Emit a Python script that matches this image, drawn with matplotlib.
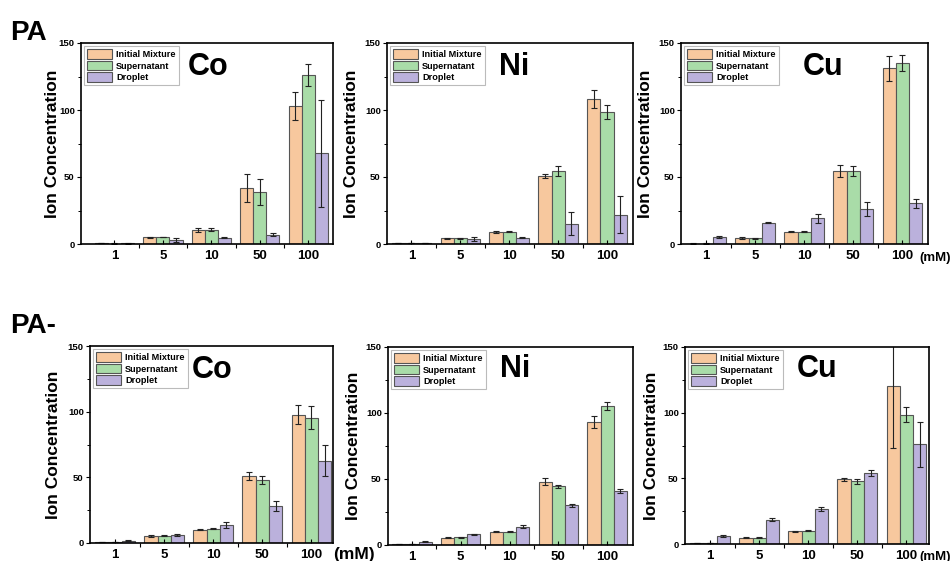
import numpy as np
import matplotlib
matplotlib.use("Agg")
import matplotlib.pyplot as plt
from matplotlib.ticker import FixedLocator, MultipleLocator

plt.rcParams['font.family'] = ['Liberation Sans', 'DejaVu Sans']
plt.rcParams['font.weight'] = 'bold'

concs = ['1', '5', '10', '50', '100']
series = ['Initial Mixture', 'Supernatant', 'Droplet']
colors = ['#F7C89E', '#A9DCA8', '#BBB1DC']

# PA
pa_co_im = [0.8, 5.0, 10.5, 41.9, 103.3]; pa_co_im_err = [0.3, 0.3, 1.5, 10.5, 10.5]
pa_co_s = [0.3, 5.2, 10.8, 38.7, 126.0];  pa_co_s_err = [0.1, 0.3, 1.0, 9.5, 8.0]
pa_co_d = [0.5, 3.0, 4.8, 7.0, 67.6];     pa_co_d_err = [0.2, 1.5, 0.5, 1.0, 40.0]

pa_ni_im = [0.5, 4.3, 9.0, 50.7, 108.3];  pa_ni_im_err = [0.1, 0.3, 0.5, 1.7, 6.5]
pa_ni_s = [0.5, 4.3, 9.2, 54.4, 98.3];    pa_ni_s_err = [0.1, 0.3, 0.5, 4.0, 5.3]
pa_ni_d = [0.5, 4.0, 4.7, 15.2, 22.0];    pa_ni_d_err = [0.1, 1.5, 0.5, 8.5, 13.5]

pa_cu_im = [0.3, 4.5, 9.3, 54.2, 131.3];  pa_cu_im_err = [0.1, 0.7, 0.5, 4.5, 9.3]
pa_cu_s = [0.3, 4.3, 9.3, 54.4, 135.3];   pa_cu_s_err = [0.1, 0.3, 0.5, 3.5, 6.0]
pa_cu_d = [5.0, 16.0, 19.2, 26.0, 30.4];  pa_cu_d_err = [0.8, 0.6, 3.3, 5.0, 3.5]

# PA-
pam_co_im = [0.8, 5.3, 10.0, 50.9, 97.8]; pam_co_im_err = [0.3, 0.5, 0.4, 2.8, 7.3]
pam_co_s = [0.8, 5.5, 10.8, 48.1, 95.5];  pam_co_s_err = [0.2, 0.4, 0.4, 2.8, 8.6]
pam_co_d = [1.8, 6.0, 13.7, 28.1, 62.8];  pam_co_d_err = [0.5, 1.0, 2.0, 3.8, 11.7]

pam_ni_im = [0.8, 5.5, 10.0, 48.1, 93.1]; pam_ni_im_err = [0.2, 0.4, 0.4, 2.8, 4.5]
pam_ni_s = [0.8, 5.7, 10.0, 44.5, 105.2]; pam_ni_s_err = [0.3, 0.3, 0.4, 1.2, 3.3]
pam_ni_d = [2.5, 8.0, 14.0, 30.1, 40.7];  pam_ni_d_err = [0.4, 0.6, 1.2, 1.2, 1.5]

pam_cu_im = [0.5, 4.8, 9.6, 49.4, 120.3]; pam_cu_im_err = [0.1, 0.4, 0.4, 1.2, 47.5]
pam_cu_s = [0.5, 4.8, 10.2, 47.6, 98.6];  pam_cu_s_err = [0.1, 0.3, 0.3, 1.8, 6.0]
pam_cu_d = [6.4, 18.5, 27.0, 54.0, 76.0]; pam_cu_d_err = [0.8, 1.0, 1.5, 2.3, 17.0]

panels = [
    ('Co', [pa_co_im, pa_co_s, pa_co_d], [pa_co_im_err, pa_co_s_err, pa_co_d_err]),
    ('Ni', [pa_ni_im, pa_ni_s, pa_ni_d], [pa_ni_im_err, pa_ni_s_err, pa_ni_d_err]),
    ('Cu', [pa_cu_im, pa_cu_s, pa_cu_d], [pa_cu_im_err, pa_cu_s_err, pa_cu_d_err]),
    ('Co', [pam_co_im, pam_co_s, pam_co_d], [pam_co_im_err, pam_co_s_err, pam_co_d_err]),
    ('Ni', [pam_ni_im, pam_ni_s, pam_ni_d], [pam_ni_im_err, pam_ni_s_err, pam_ni_d_err]),
    ('Cu', [pam_cu_im, pam_cu_s, pam_cu_d], [pam_cu_im_err, pam_cu_s_err, pam_cu_d_err]),
]

W, H = 952, 561
fig = plt.figure(figsize=(W / 100, H / 100), dpi=100)

# axes boxes in pixels: left, top, right, bottom
boxes = [
    (81, 43, 333, 244),
    (387, 43, 633, 244),
    (681, 43, 928, 244),
    (90, 346, 333, 543),
    (388, 347, 633, 545),
    (685, 347, 929, 544),
]
xlims = [(-0.69, 4.51), (-0.5, 4.53), (-0.51, 4.52),
         (-0.51, 4.44), (-0.49, 4.53), (-0.51, 4.46)]
ylabel_x = [53, 351, 646, 54, 354, 651]
title_pos = [(188, 75), (499, 75), (803, 75), (192, 378), (500, 377), (797, 377)]

x = np.arange(len(concs))
bw = 0.27
offsets = [-bw, 0, bw]

for i, (el, vals, errs) in enumerate(panels):
    l, t, r, b = boxes[i]
    ax = fig.add_axes([l / W, 1 - b / H, (r - l) / W, (b - t) / H])
    for k in range(3):
        ax.bar(x + offsets[k], vals[k], width=bw, color=colors[k],
               edgecolor='#555555', linewidth=0.8, label=series[k],
               yerr=errs[k], capsize=2.2,
               error_kw=dict(ecolor='#222222', elinewidth=0.8, capthick=0.8))
    ax.set_ylim(0, 150)
    ax.set_xlim(*xlims[i])
    ax.set_xticks(x)
    ax.set_xticklabels(concs, fontsize=9.5, fontweight='bold')
    ax.xaxis.set_minor_locator(FixedLocator(x[:-1] + 0.5))
    ax.set_yticks([0, 50, 100, 150])
    ax.yaxis.set_minor_locator(MultipleLocator(25))
    ax.tick_params(axis='y', which='major', labelsize=6.8, length=3, width=0.8, pad=1.5)
    ax.tick_params(axis='y', which='minor', length=2, width=0.7)
    ax.tick_params(axis='x', which='major', length=3, width=0.8, pad=4.5, direction='in')
    ax.tick_params(axis='x', which='minor', length=3, width=0.8, direction='out')
    for lab in ax.get_yticklabels():
        lab.set_fontweight('bold')
    for sp in ax.spines.values():
        sp.set_linewidth(1.2)
    ax.set_ylabel('Ion Concentration', fontsize=12.5, fontweight='bold')
    ax.yaxis.label.set_va('center')
    ax.yaxis.set_label_coords((ylabel_x[i] - l) / (r - l), 0.5)
    leg = ax.legend(loc='upper left', handlelength=2.7,
                    handleheight=1.25, labelspacing=0.2, handletextpad=0.5,
                    borderpad=0.3, borderaxespad=0.35, fancybox=False,
                    framealpha=1, edgecolor='#BBBBBB',
                    prop=dict(weight='bold', size=6.6))
    leg.get_frame().set_linewidth(0.8)
    tx, ty = title_pos[i]
    fig.text(tx / W, 1 - ty / H, el, fontsize=22, fontweight='bold',
             ha='left', va='baseline')

fig.text(10 / W, 1 - 40 / H, 'PA', fontsize=20, fontweight='bold', ha='left', va='baseline')
fig.text(10 / W, 1 - 333 / H, 'PA-', fontsize=20, fontweight='bold', ha='left', va='baseline')
fig.text(919 / W, 1 - 261 / H, '(mM)', fontsize=9.5, fontweight='bold', ha='left', va='baseline')
fig.text(333 / W, 1 - 559 / H, '(mM)', fontsize=12.5, fontweight='bold', ha='left', va='baseline')
fig.text(919 / W, 1 - 560 / H, '(mM)', fontsize=9.5, fontweight='bold', ha='left', va='baseline')

fig.savefig('out.png', dpi=100)
